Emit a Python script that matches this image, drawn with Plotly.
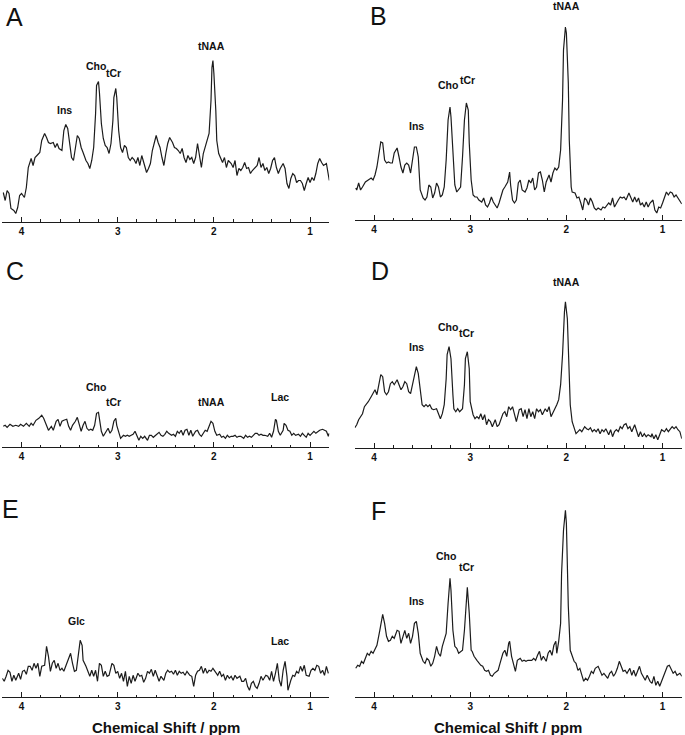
import plotly.graph_objects as go

# ---------------- data (chemical shift in ppm, signal intensity in a.u.) ----------------
ppm_a = [4.19,4.17,4.15,4.13,4.11,4.08,4.06,4.04,4.02,4.00,3.97,3.95,3.93,3.90,3.88,3.86,3.83,3.81,3.79,3.76,
         3.74,3.72,3.70,3.67,3.65,3.63,3.61,3.58,3.56,3.54,3.52,3.50,3.48,3.46,3.44,3.42,3.40,3.38,3.36,3.33,
         3.31,3.29,3.27,3.25,3.23,3.22,3.20,3.19,3.17,3.15,3.13,3.11,3.09,3.07,3.05,3.04,3.02,3.01,2.99,2.97,
         2.95,2.93,2.91,2.89,2.87,2.85,2.83,2.81,2.79,2.77,2.75,2.73,2.70,2.68,2.66,2.64,2.62,2.60,2.58,2.56,
         2.54,2.52,2.50,2.48,2.46,2.43,2.41,2.39,2.37,2.35,2.33,2.31,2.29,2.27,2.25,2.23,2.21,2.19,2.17,2.15,
         2.13,2.11,2.09,2.07,2.05,2.03,2.02,2.01,2.00,1.98,1.97,1.95,1.93,1.91,1.89,1.87,1.85,1.82,1.80,1.78,
         1.76,1.74,1.72,1.70,1.68,1.66,1.64,1.62,1.60,1.58,1.55,1.53,1.51,1.49,1.47,1.45,1.43,1.41,1.39,1.37,
         1.35,1.33,1.31,1.28,1.26,1.24,1.22,1.20,1.18,1.16,1.14,1.12,1.10,1.08,1.06,1.04,1.02,1.00,0.98,0.96,
         0.94,0.92,0.90,0.88,0.86,0.83,0.82,0.80]
int_a = [29,21,31,28,13,11,8,14,26,28,24,34,54,63,56,64,67,69,81,88,
         84,79,78,79,74,78,73,71,91,97,93,78,64,61,74,86,83,74,69,61,
         58,53,61,74,108,136,140,129,98,83,76,74,68,78,101,124,133,124,91,74,
         69,76,74,64,61,64,62,58,64,56,66,59,49,53,58,71,79,86,79,74,
         64,56,68,78,84,79,74,73,71,68,73,64,59,66,62,64,58,64,78,64,
         54,68,74,81,88,121,154,161,148,111,81,68,64,59,64,54,61,58,54,61,
         46,53,51,54,59,53,54,48,51,53,56,64,54,58,51,54,48,53,61,64,
         54,48,53,58,53,38,33,43,48,46,39,41,41,38,31,38,44,39,44,41,
         48,58,63,59,56,58,51,41]

ppm_b = [4.19,4.18,4.16,4.14,4.12,4.09,4.06,4.03,4.01,3.99,3.97,3.95,3.93,3.91,3.89,3.87,3.85,3.83,3.81,3.79,
         3.76,3.74,3.72,3.70,3.68,3.66,3.64,3.62,3.60,3.58,3.56,3.54,3.52,3.49,3.47,3.45,3.43,3.41,3.39,3.37,
         3.35,3.33,3.31,3.29,3.27,3.25,3.23,3.21,3.20,3.18,3.16,3.14,3.12,3.10,3.08,3.06,3.04,3.02,3.01,2.99,
         2.97,2.95,2.93,2.91,2.88,2.86,2.84,2.82,2.80,2.78,2.76,2.74,2.72,2.70,2.68,2.66,2.64,2.61,2.59,2.58,
         2.56,2.54,2.52,2.50,2.48,2.46,2.43,2.41,2.39,2.37,2.35,2.33,2.31,2.29,2.27,2.25,2.23,2.21,2.18,2.16,
         2.14,2.12,2.10,2.08,2.06,2.04,2.03,2.01,2.00,1.98,1.97,1.95,1.94,1.91,1.89,1.87,1.85,1.83,1.81,1.79,
         1.77,1.75,1.73,1.71,1.69,1.67,1.64,1.62,1.60,1.58,1.56,1.54,1.52,1.50,1.48,1.46,1.44,1.42,1.40,1.38,
         1.35,1.33,1.31,1.29,1.27,1.25,1.23,1.21,1.19,1.17,1.15,1.13,1.10,1.08,1.06,1.04,1.02,1.00,0.98,0.96,
         0.94,0.92,0.90,0.88,0.86,0.83,0.81,0.80]
int_b = [32,30,37,30,33,38,40,42,40,45,53,67,78,77,60,57,58,57,57,67,
         72,63,53,47,55,57,55,47,63,73,73,63,30,22,20,23,35,33,22,27,
         37,33,23,25,33,60,100,113,103,63,35,28,30,33,63,100,117,110,77,40,
         25,23,23,20,18,22,15,13,17,23,18,15,12,17,23,30,33,38,48,35,
         20,17,20,37,40,30,28,32,40,37,42,30,33,47,48,40,28,38,45,38,
         47,52,50,53,70,120,170,193,187,137,80,33,28,27,22,23,17,10,22,20,
         15,22,18,12,10,12,10,13,12,15,17,15,22,13,17,20,23,22,23,20,
         27,23,18,23,18,22,15,17,13,18,13,17,20,10,7,13,12,17,23,28,
         25,28,27,23,25,20,17,16]

ppm_c = [4.19,4.17,4.15,4.12,4.09,4.06,4.03,4.01,3.98,3.95,3.92,3.90,3.88,3.85,3.82,3.79,3.77,3.74,3.72,3.69,
         3.67,3.64,3.62,3.60,3.58,3.56,3.53,3.51,3.49,3.47,3.44,3.42,3.40,3.38,3.36,3.34,3.32,3.30,3.28,3.26,
         3.24,3.22,3.20,3.19,3.17,3.15,3.12,3.10,3.08,3.06,3.04,3.02,3.01,2.99,2.97,2.94,2.92,2.90,2.88,2.86,
         2.84,2.82,2.80,2.78,2.76,2.74,2.72,2.69,2.67,2.65,2.63,2.61,2.59,2.57,2.55,2.53,2.51,2.49,2.47,2.44,
         2.42,2.40,2.38,2.36,2.34,2.32,2.30,2.28,2.26,2.24,2.22,2.19,2.17,2.15,2.13,2.11,2.09,2.07,2.05,2.03,
         2.01,1.99,1.97,1.94,1.92,1.90,1.88,1.86,1.84,1.82,1.80,1.78,1.76,1.74,1.72,1.69,1.67,1.65,1.63,1.61,
         1.59,1.57,1.55,1.53,1.51,1.49,1.47,1.44,1.42,1.40,1.38,1.36,1.35,1.33,1.31,1.28,1.27,1.25,1.23,1.21,
         1.19,1.17,1.15,1.12,1.10,1.08,1.06,1.04,1.02,1.00,0.98,0.96,0.94,0.92,0.90,0.87,0.85,0.83,0.81,0.80]
int_c = [21,22,20,23,21,22,21,23,21,24,21,24,22,27,29,32,29,22,17,21,
         17,26,28,21,26,27,28,21,17,22,26,30,22,16,22,26,19,17,18,17,
         22,34,35,27,16,11,16,19,14,17,26,29,22,14,9,12,11,12,11,12,
         13,16,11,7,11,9,11,7,12,12,10,12,13,15,12,11,13,16,14,12,
         13,11,16,14,17,12,17,18,12,17,11,16,17,13,11,14,17,16,21,26,
         24,16,12,13,10,11,9,12,10,11,11,12,10,11,11,9,12,10,11,10,
         12,14,14,12,13,12,12,11,14,10,16,28,27,16,12,17,24,22,17,16,
         12,14,12,13,11,14,12,10,14,12,14,16,14,16,17,18,17,16,11,14]

ppm_d = [4.20,4.18,4.16,4.14,4.12,4.10,4.08,4.06,4.03,4.01,3.99,3.97,3.95,3.93,3.91,3.89,3.87,3.85,3.83,3.81,
         3.79,3.76,3.74,3.72,3.70,3.68,3.66,3.64,3.62,3.60,3.58,3.56,3.54,3.52,3.50,3.48,3.46,3.44,3.42,3.40,
         3.38,3.35,3.33,3.31,3.29,3.27,3.25,3.24,3.22,3.20,3.18,3.17,3.15,3.13,3.11,3.08,3.06,3.05,3.03,3.01,
         3.00,2.97,2.95,2.93,2.91,2.89,2.87,2.85,2.83,2.81,2.79,2.77,2.74,2.72,2.70,2.68,2.66,2.64,2.62,2.60,
         2.58,2.56,2.54,2.52,2.49,2.47,2.45,2.43,2.41,2.39,2.37,2.35,2.33,2.31,2.29,2.27,2.25,2.22,2.20,2.18,
         2.16,2.14,2.12,2.10,2.08,2.06,2.04,2.02,2.01,1.99,1.97,1.96,1.94,1.92,1.90,1.88,1.86,1.84,1.81,1.79,
         1.77,1.75,1.73,1.71,1.69,1.67,1.65,1.63,1.61,1.59,1.56,1.54,1.52,1.50,1.48,1.46,1.44,1.42,1.40,1.38,
         1.36,1.34,1.32,1.29,1.27,1.25,1.23,1.21,1.19,1.17,1.15,1.12,1.11,1.09,1.07,1.05,1.03,1.01,0.98,0.96,
         0.94,0.92,0.90,0.88,0.86,0.84,0.82,0.80]
int_d = [20,23,28,31,34,41,43,46,51,54,58,53,63,73,71,56,53,56,64,66,
         63,68,63,58,61,66,64,56,54,63,74,81,74,56,43,41,43,41,43,39,
         38,39,34,29,34,43,69,93,101,89,53,39,36,39,36,39,63,89,96,79,
         46,33,29,31,29,34,28,33,23,28,26,21,28,21,23,28,34,36,31,41,
         38,41,33,26,38,39,31,38,29,39,31,36,29,39,36,38,33,39,36,41,
         31,36,39,43,48,63,93,136,146,129,76,43,26,21,14,16,18,16,21,19,
         18,20,16,18,16,19,14,18,16,19,13,18,11,16,18,16,21,19,23,24,
         19,21,16,23,16,11,16,11,14,11,13,11,14,9,13,8,13,18,16,19,
         16,19,21,19,21,18,16,9]

ppm_e = [4.20,4.18,4.16,4.14,4.12,4.10,4.08,4.06,4.03,4.01,3.99,3.97,3.95,3.93,3.91,3.89,3.87,3.85,3.83,3.81,
         3.79,3.76,3.75,3.74,3.72,3.70,3.68,3.66,3.64,3.62,3.60,3.58,3.56,3.54,3.52,3.49,3.47,3.45,3.43,3.41,
         3.39,3.37,3.36,3.33,3.31,3.29,3.27,3.25,3.23,3.21,3.19,3.17,3.15,3.13,3.11,3.09,3.06,3.04,3.02,3.00,
         2.98,2.96,2.94,2.92,2.90,2.88,2.86,2.84,2.82,2.79,2.77,2.75,2.73,2.71,2.69,2.67,2.65,2.63,2.61,2.59,
         2.57,2.55,2.52,2.50,2.48,2.46,2.44,2.42,2.40,2.38,2.36,2.34,2.32,2.30,2.28,2.25,2.23,2.21,2.19,2.17,
         2.15,2.13,2.11,2.09,2.07,2.05,2.03,2.01,1.98,1.96,1.94,1.92,1.90,1.88,1.86,1.84,1.82,1.80,1.78,1.76,
         1.73,1.71,1.69,1.67,1.65,1.63,1.61,1.59,1.57,1.55,1.53,1.51,1.49,1.46,1.44,1.42,1.40,1.38,1.36,1.34,
         1.32,1.30,1.28,1.26,1.24,1.23,1.20,1.18,1.16,1.14,1.12,1.10,1.08,1.06,1.04,1.01,0.99,0.97,0.95,0.93,
         0.91,0.89,0.87,0.85,0.83,0.81]
int_e = [19,16,21,27,25,16,22,17,24,18,26,27,23,31,31,27,34,29,34,21,
         31,32,41,51,41,26,34,37,29,34,27,29,26,31,37,44,34,26,27,44,
         57,52,37,31,26,21,27,21,27,16,34,32,21,26,21,22,34,32,24,26,
         19,24,16,26,11,21,14,22,16,24,21,22,15,19,26,24,28,21,27,22,
         16,21,17,24,27,25,26,23,27,22,26,24,25,22,26,22,21,11,22,26,
         27,31,24,29,24,27,26,29,25,22,26,21,23,17,22,19,21,17,22,19,
         21,16,16,19,11,7,14,16,11,9,14,21,17,22,21,17,26,16,24,34,
         17,11,27,36,21,7,17,22,21,26,24,31,26,32,22,21,27,29,27,32,
         31,24,27,22,31,24]

ppm_f = [4.19,4.17,4.15,4.13,4.11,4.09,4.07,4.05,4.03,4.01,3.99,3.97,3.94,3.92,3.91,3.89,3.87,3.85,3.83,3.81,
         3.79,3.76,3.74,3.72,3.70,3.68,3.66,3.64,3.62,3.60,3.58,3.56,3.54,3.52,3.49,3.47,3.45,3.43,3.41,3.39,
         3.37,3.35,3.33,3.31,3.29,3.27,3.25,3.23,3.21,3.20,3.18,3.16,3.14,3.12,3.10,3.08,3.06,3.04,3.03,3.01,
         2.99,2.98,2.96,2.93,2.91,2.89,2.87,2.85,2.83,2.81,2.79,2.77,2.75,2.73,2.71,2.69,2.66,2.64,2.62,2.60,
         2.59,2.57,2.55,2.53,2.51,2.48,2.46,2.44,2.42,2.40,2.38,2.36,2.34,2.32,2.30,2.28,2.26,2.24,2.21,2.19,
         2.17,2.15,2.13,2.11,2.10,2.08,2.06,2.05,2.03,2.01,2.00,1.98,1.96,1.94,1.92,1.90,1.88,1.86,1.84,1.82,
         1.80,1.78,1.76,1.74,1.72,1.70,1.67,1.65,1.63,1.61,1.59,1.57,1.55,1.53,1.51,1.49,1.47,1.45,1.43,1.41,
         1.39,1.37,1.34,1.32,1.30,1.28,1.26,1.24,1.22,1.20,1.18,1.16,1.13,1.11,1.09,1.07,1.05,1.03,1.01,0.99,
         0.97,0.95,0.93,0.91,0.89,0.87,0.85,0.82,0.80]
int_f = [29,32,31,36,34,39,44,42,46,44,49,52,67,81,83,74,61,56,57,61,
         59,67,66,54,62,67,59,64,54,61,74,76,64,44,36,34,39,37,31,34,
         41,51,44,41,51,57,64,94,119,107,67,51,49,44,46,47,67,101,110,84,
         47,46,41,37,34,32,31,27,26,27,22,21,24,26,27,34,44,47,41,54,
         56,41,34,26,37,39,36,37,36,37,37,37,39,37,42,46,37,41,36,44,
         47,42,52,56,44,56,74,124,167,187,174,91,47,41,36,34,27,29,21,16,
         19,17,21,26,24,29,31,27,22,24,21,19,24,26,21,24,29,36,31,26,
         27,24,29,22,27,21,26,31,24,21,17,22,16,14,21,12,16,11,16,22,
         26,31,32,27,24,26,22,24,21]

panel_letters = ["A", "B", "C", "D", "E", "F"]
tick_vals = [4, 3, 2, 1]
tick_text = ["4", "3", "2", "1"]
axis_title = "Chemical Shift / ppm"

# peak labels per panel: (text, ppm, intensity)
labels_a = [("Ins", 3.55, 112), ("Cho", 3.23, 156), ("tCr", 3.04, 149), ("tNAA", 2.03, 176)]
labels_b = [("Ins", 3.56, 94), ("Cho", 3.23, 135), ("tCr", 3.03, 140), ("tNAA", 2.00, 214)]
labels_c = [("Cho", 3.23, 60), ("tCr", 3.04, 45), ("tNAA", 2.02, 45), ("Lac", 1.31, 50)]
labels_d = [("Ins", 3.56, 101), ("Cho", 3.23, 121), ("tCr", 3.04, 115), ("tNAA", 2.00, 166)]
labels_e = [("Glc", 3.43, 76), ("Lac", 1.31, 56)]
labels_f = [("Ins", 3.56, 96), ("Cho", 3.25, 141), ("tCr", 3.04, 130), ("tNAA", 2.01, 206)]

spectra = [(ppm_a, int_a), (ppm_b, int_b), (ppm_c, int_c),
           (ppm_d, int_d), (ppm_e, int_e), (ppm_f, int_f)]
labels = [labels_a, labels_b, labels_c, labels_d, labels_e, labels_f]

# ---------------- layout geometry (pixels) ----------------
W, H = 685, 735
col_x = [(2.3, 329.3), (354.8, 681.8)]
axis_y = [221.5, 220.0, 447.3, 447.7, 697.3, 697.3]
panel_h = [215, 215, 200, 200, 200, 200]
letter_pos = [(14, 17), (378, 16), (15, 271), (380, 271), (10, 509), (378, 511)]

fig = go.Figure()
line_col = "#1c1c1c"

for i, (xs, ys) in enumerate(spectra):
    sfx = "" if i == 0 else str(i + 1)
    fig.add_trace(go.Scatter(x=xs, y=ys, mode="lines",
                             line=dict(color=line_col, width=1.2),
                             xaxis="x" + sfx, yaxis="y" + sfx, showlegend=False,
                             hoverinfo="skip"))
    c = i % 2
    x0, x1 = col_x[c]
    yb = axis_y[i]
    yt = yb - panel_h[i]
    fig.layout["xaxis" + sfx] = dict(
        domain=[x0 / W, x1 / W], anchor="y" + sfx, range=[4.2, 0.8],
        showline=True, linecolor=line_col, linewidth=1, mirror=False,
        showgrid=False, zeroline=False,
        ticks="inside", ticklen=5, tickwidth=1, tickcolor=line_col,
        tickvals=tick_vals, ticktext=tick_text,
        tickfont=dict(family="Liberation Sans", size=10, color="#111", weight="bold"),
        minor=dict(ticks="inside", ticklen=2.5, tickwidth=1, tickcolor=line_col,
                   dtick=0.2, tick0=0, showgrid=False),
        fixedrange=True,
    )
    fig.layout["yaxis" + sfx] = dict(
        domain=[1 - yb / H, 1 - yt / H], anchor="x" + sfx, range=[0, panel_h[i]],
        visible=False, fixedrange=True,
    )
    for (txt, px, py) in labels[i]:
        fig.add_annotation(x=px, y=py, xref="x" + sfx, yref="y" + sfx,
                           text="<b>" + txt + "</b>", showarrow=False,
                           font=dict(family="Liberation Sans", size=10.5, color="#111"),
                           xanchor="center", yanchor="middle")
    lx, ly = letter_pos[i]
    fig.add_annotation(x=lx / W, y=1 - ly / H, xref="paper", yref="paper",
                       text=panel_letters[i], showarrow=False,
                       font=dict(family="Liberation Sans", size=25, color="#111"),
                       xanchor="center", yanchor="middle")

for cx in (166, 508):
    fig.add_annotation(x=cx / W, y=1 - 727 / H, xref="paper", yref="paper",
                       text="<b>" + axis_title + "</b>", showarrow=False,
                       font=dict(family="Liberation Sans", size=15, color="#111"),
                       xanchor="center", yanchor="middle")

fig.update_layout(width=W, height=H, margin=dict(l=0, r=0, t=0, b=0),
                  paper_bgcolor="white", plot_bgcolor="white")

fig.write_html("out.html",
               config={"displayModeBar": False},
               post_script="document.body.style.margin='0';document.body.style.overflow='hidden';")
